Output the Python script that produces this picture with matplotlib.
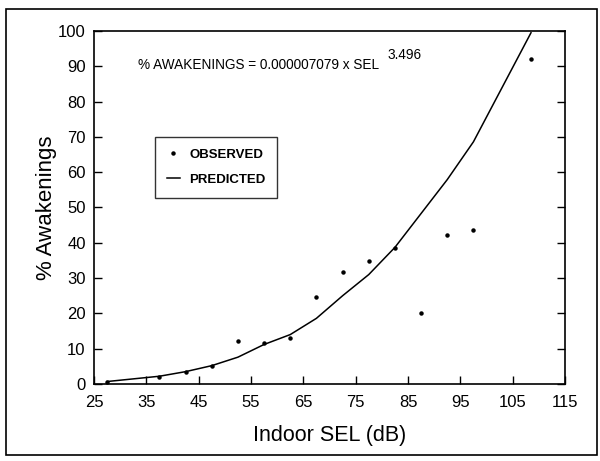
import matplotlib
matplotlib.use("Agg")
import matplotlib.pyplot as plt
from matplotlib.patches import Rectangle

plt.rcParams['font.family'] = ['Liberation Sans', 'DejaVu Sans']

# Indoor SEL (dB) at which awakenings were tallied
sel = [27.5, 37.5, 42.5, 47.5, 52.5, 57.5, 62.5, 67.5, 72.5, 77.5,
       82.5, 87.5, 92.5, 97.5, 108.5]
# Observed percentage of awakenings
observed = [0.5, 1.9, 3.5, 5.2, 12.3, 11.6, 12.9, 24.6, 31.6, 34.8,
            38.6, 20.2, 42.2, 43.6, 92.0]
# Predicted percentage of awakenings (dose-response curve)
predicted = [0.7, 2.2, 3.5, 5.2, 7.6, 11.2, 14.0, 18.6, 25.0, 31.0,
             38.7, 48.3, 57.9, 68.6, 99.5]

x_ticks = [25, 35, 45, 55, 65, 75, 85, 95, 105, 115]
y_ticks = [0, 10, 20, 30, 40, 50, 60, 70, 80, 90, 100]

fig = plt.figure(figsize=(6.0, 4.61), dpi=100)
ax = fig.add_axes([94 / 600, 1 - 384 / 461, (565 - 94) / 600, (384 - 31) / 461])

ax.plot(sel, predicted, color='black', lw=1.1, label='PREDICTED', clip_on=True)
ax.plot(sel, observed, linestyle='none', marker='o', ms=2.2, color='black',
        label='OBSERVED')

ax.set_xlim(25, 115)
ax.set_ylim(0, 100)
ax.set_xticks(x_ticks)
ax.set_yticks(y_ticks)
ax.tick_params(axis='both', direction='in', length=6, width=1.0,
               labelsize=12, pad=6)
ax.tick_params(axis='x', pad=8)
ax.tick_params(axis='y', right=True, labelright=False)
for s in ax.spines.values():
    s.set_linewidth(1.2)

ax.set_xlabel('Indoor SEL (dB)', fontsize=15.5, labelpad=11)
ax.set_ylabel('% Awakenings', fontsize=16, labelpad=1)

# Model equation
ax.text(138 / 600, 1 - 69 / 461, '% AWAKENINGS = 0.000007079 x SEL',
        transform=fig.transFigure, fontsize=9.8, va='baseline', ha='left')
ax.text(387 / 600, 1 - 59 / 461, '3.496',
        transform=fig.transFigure, fontsize=9.8, va='baseline', ha='left')

handles, labels = ax.get_legend_handles_labels()
leg = ax.legend(handles[::-1], labels[::-1], loc='upper left',
                bbox_to_anchor=(155 / 600, 1 - 137 / 461),
                bbox_transform=fig.transFigure, borderaxespad=0,
                frameon=True, fancybox=False, edgecolor='black',
                handlelength=1.0, handletextpad=0.7, borderpad=0.9,
                labelspacing=0.95, prop={'size': 9.5, 'weight': 'bold'})
leg.get_frame().set_linewidth(1.0)

# Outer frame around the whole figure
fig.patches.append(Rectangle((6 / 600, 1 - 455 / 461), 591 / 600, 446 / 461,
                             transform=fig.transFigure, fill=False,
                             edgecolor='black', lw=1.2))

fig.savefig('out.png', dpi=100)
